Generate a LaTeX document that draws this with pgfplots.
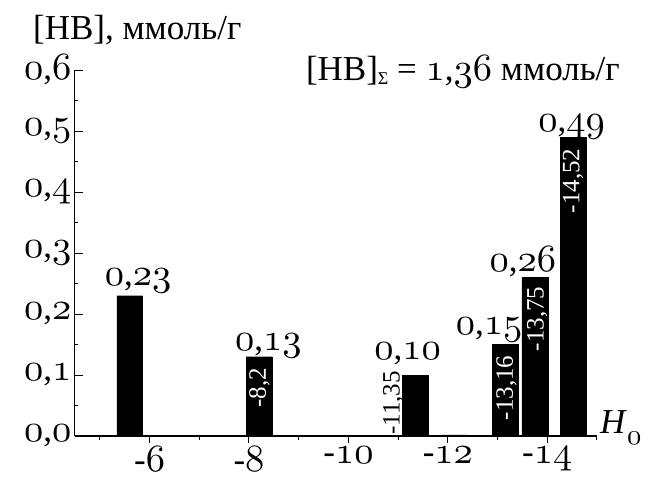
\documentclass[border=0pt]{standalone}
\usepackage{fontspec}
\setmainfont{Liberation Serif}
\usepackage{pgfplots}
\pgfplotsset{compat=1.18}
% old-style figures from Computer Modern math italic, freely scaled
\DeclareFontFamily{OML}{osf}{\skewchar\font127}
\DeclareFontShape{OML}{osf}{m}{it}{<->s*[1.1]cmmi10}{}
\newcommand\os[1]{{\usefont{OML}{osf}{m}{it}#1}}
\newcommand\dec[2]{\os{#1},\os{#2}}
\newcommand\bigfont{\fontsize{35}{40}\selectfont}
\newcommand\inbar{\fontsize{25}{28}\selectfont}

\begin{document}
\begin{tikzpicture}
\useasboundingbox (-75pt,-43pt) rectangle (581pt,436pt);
\pgfplotsset{base/.style={
    width=522pt, height=366pt, scale only axis,
    xmin=-15, xmax=-4.5, ymin=0, ymax=0.6,
    x dir=reverse,
    axis x line*=bottom, axis y line*=left,
    axis line style={line width=1pt},
    tick style={line width=1pt, black},
    tick label style={font=\bigfont},
    clip=false,
    at={(0,0)}, anchor=south west}}

\begin{axis}[base,
    xtick=\empty,
    ytick={0,0.1,0.2,0.3,0.4,0.5,0.6},
    yticklabels={{\dec{0}{0}},{\dec{0}{1}},{\dec{0}{2}},{\dec{0}{3}},{\dec{0}{4}},{\dec{0}{5}},{\dec{0}{6}}},
    minor ytick={0.05,0.15,0.25,0.35,0.45,0.55},
    tick align=inside,
    major tick length=8pt, minor tick length=3.5pt,
    ybar, bar width=0.52]
\addplot[fill=black, draw=black] coordinates {
    (-5.6,0.23) (-8.2,0.13) (-11.35,0.10) (-12.14,0.002)
    (-13.16,0.15) (-13.75,0.26) (-14.52,0.49)};

% values above the bars
\node[anchor=base, font=\bigfont, inner sep=0] at (axis cs:-5.77,0.246) {\dec{0}{23}};
\node[anchor=base, font=\bigfont, inner sep=0] at (axis cs:-8.39,0.140) {\dec{0}{13}};
\node[anchor=base, font=\bigfont, inner sep=0] at (axis cs:-11.19,0.125) {\dec{0}{10}};
\node[anchor=base, font=\bigfont, inner sep=0] at (axis cs:-12.83,0.166) {\dec{0}{15}};
\node[anchor=base, font=\bigfont, inner sep=0] at (axis cs:-13.51,0.270) {\dec{0}{26}};
\node[anchor=base, font=\bigfont, inner sep=0] at (axis cs:-14.49,0.500) {\dec{0}{49}};

% H0 positions
\node[rotate=90, text=white, font=\inbar, inner sep=0] at (axis cs:-8.21,0.079) {-8,2};
\node[rotate=90, text=black, font=\inbar, inner sep=0] at (axis cs:-10.90,0.054) {-11,35};
\node[rotate=90, text=white, font=\inbar, inner sep=0] at (axis cs:-13.18,0.079) {-13,16};
\node[rotate=90, text=white, font=\inbar, inner sep=0] at (axis cs:-13.80,0.192) {-13,75};
\node[rotate=90, text=white, font=\inbar, inner sep=0] at (axis cs:-14.52,0.418) {-14,52};
\end{axis}

\begin{axis}[base,
    ytick=\empty,
    xtick={-6,-8,-10,-12,-14},
    xticklabels={-\os{6},-\os{8},-\os{10},-\os{12},-\os{14}},
    minor xtick={-5,-7,-9,-11,-13,-15},
    tick align=outside,
    major tick length=7pt, minor tick length=4pt]
\end{axis}

\node[anchor=base west, font=\bigfont, inner sep=0] at (-42pt,396pt) {[HB], ммоль/г};
\node[anchor=base east, font=\bigfont, inner sep=0] at (545pt,355pt)
    {[HB]\raisebox{-4pt}{\fontsize{18}{20}\selectfont Σ} = \os{1},\os{36} ммоль/г};
\node[anchor=base west, font=\bigfont, inner sep=0] at (525pt,2pt)
    {\textit{H}\raisebox{-11pt}{\fontsize{26}{28}\selectfont\os{0}}};
\end{tikzpicture}
\end{document}
